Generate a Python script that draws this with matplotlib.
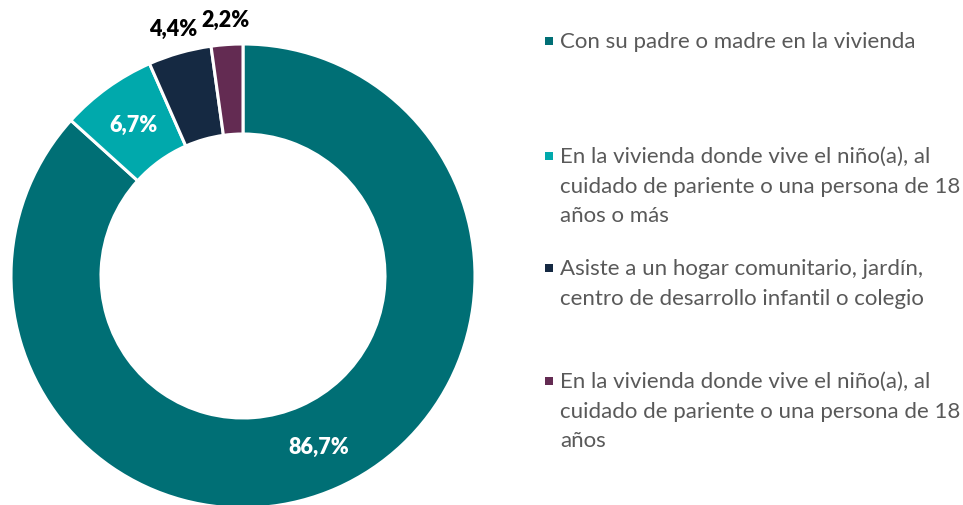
import matplotlib
matplotlib.use("Agg")
import matplotlib.pyplot as plt
import numpy as np

categories = [
    "Con su padre o madre en la vivienda",
    "En la vivienda donde vive el niño(a), al\ncuidado de pariente o una persona de 18\naños o más",
    "Asiste a un hogar comunitario, jardín,\ncentro de desarrollo infantil o colegio",
    "En la vivienda donde vive el niño(a), al\ncuidado de pariente o una persona de 18\naños",
]
values = [86.7, 6.7, 4.4, 2.2]
pct_labels = ["86,7%", "6,7%", "4,4%", "2,2%"]
colors = ["#006F75", "#00A9AC", "#152942", "#632B52"]
label_colors = ["white", "white", "black", "black"]
label_inside = [True, True, False, False]

plt.rcParams['font.family'] = ['Lato', 'DejaVu Sans']

W, H = 963, 506
fig = plt.figure(figsize=(W / 100, H / 100), dpi=100)

R = 232.0
cx, cy = 243.0, H - 277.0
half_w, half_h = 243.0, 250.0
ax = fig.add_axes([(cx - half_w) / W, (cy - half_h) / H, 2 * half_w / W, 2 * half_h / H])

width = (232 - 142) / 232.0
wedges, _ = ax.pie(values, colors=colors, startangle=90, counterclock=False,
                   radius=1.0, wedgeprops=dict(width=width, edgecolor="white", linewidth=2.2))
ax.set_aspect('auto')
ax.set_xlim(-half_w / R, half_w / R)
ax.set_ylim(-half_h / R, half_h / R)
ax.axis('off')

total = sum(values)
cum = 0.0
for v, lab, lc, inside in zip(values, pct_labels, label_colors, label_inside):
    mid = 90 - (cum + v / 2) / total * 360
    cum += v
    r = 0.806 if inside else 1.11
    x, y = r * np.cos(np.radians(mid)), r * np.sin(np.radians(mid))
    ax.text(x, y, lab, ha="center", va="center", color=lc, fontsize=15.5,
            fontweight="heavy")

# legend
text_x = 560
marker_x = 549
first_line_y = [42, 157, 269, 382]
for cat, col, y0 in zip(categories, colors, first_line_y):
    fig.patches.append(plt.Rectangle(((marker_x - 4) / W, 1 - (y0 + 4) / H), 8 / W, 8 / H,
                                     transform=fig.transFigure, facecolor=col, edgecolor="none"))
    fig.text(text_x / W, 1 - (y0 - 10) / H, cat, ha="left", va="top", fontsize=16,
             color="#595959", linespacing=1.60)

fig.savefig("out.png", dpi=100)
